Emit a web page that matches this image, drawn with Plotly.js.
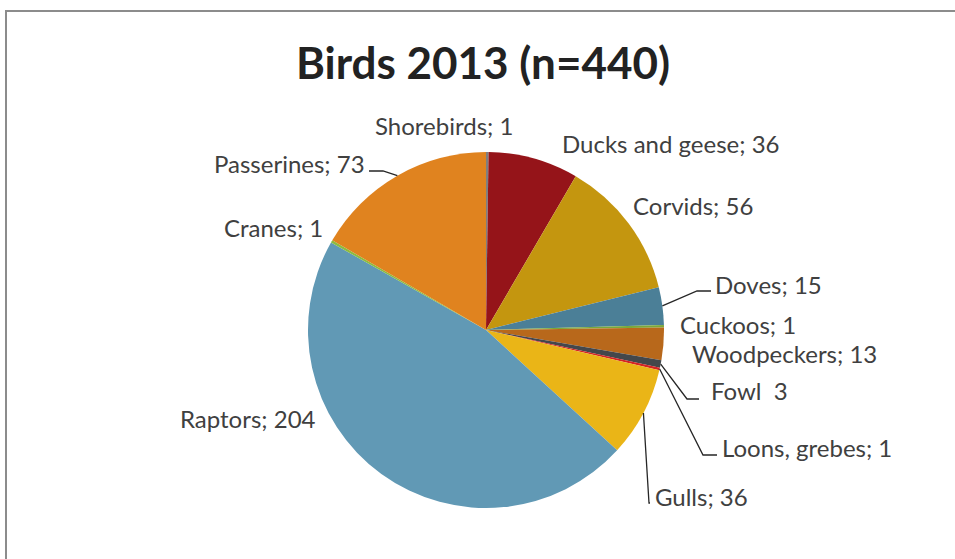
<!DOCTYPE html>
<html>
<head>
<meta charset="utf-8">
<script src="https://cdn.plot.ly/plotly-3.0.1.min.js"></script>
<style>html,body{margin:0;padding:0;background:#fff}#chart{width:955px;height:559px}</style>
</head>
<body>
<div id="chart"></div>
<script>
// Data
const categories = ["Shorebirds", "Ducks and geese", "Corvids", "Doves", "Cuckoos", "Woodpeckers", "Fowl", "Loons, grebes", "Gulls", "Raptors", "Cranes", "Passerines"];
const counts = [1, 36, 56, 15, 1, 13, 3, 1, 36, 204, 1, 73];
const labelTexts = ["Shorebirds; 1", "Ducks and geese; 36", "Corvids; 56", "Doves; 15", "Cuckoos; 1", "Woodpeckers; 13", "Fowl  3", "Loons, grebes; 1", "Gulls; 36", "Raptors; 204", "Cranes; 1", "Passerines; 73"];
const sliceColors = ["#7f7f7f", "#951419", "#c4960f", "#4b7f97", "#7aa83a", "#b8681b", "#44474b", "#d42424", "#eab517", "#6199b5", "#8dbb3e", "#e0831f"];

// Layout (pixel) settings
const W = 955, H = 559;
const cx = 486, cy = 330, R = 178;
const px = x => x / W;
const py = y => 1 - y / H;

// label anchor positions (left edge x, middle y)
const labelPos = [
  [373, 125], [560, 143], [631, 205], [713, 284], [678, 324], [690, 353],
  [709, 390], [720, 447], [653, 496], [178, 418], [222, 227], [212, 163]
];
// leader: [elbowX, elbowY, endX, endY] in px, null if none
const leaders = [null, null, null, [697, 291, 711, 291], null, null,
  [687, 399, 699, 399], [703, 455, 717, 455], [649, 503, 650, 503], null, null, [383, 171, 369, 171]];

const total = counts.reduce((a, b) => a + b, 0);
let cum = 0;
const shapes = [];
const annotations = [];
counts.forEach((v, i) => {
  const mid = (cum + v / 2) / total * 2 * Math.PI;
  cum += v;
  const ex = cx + R * Math.sin(mid), ey = cy - R * Math.cos(mid);
  annotations.push({
    x: px(labelPos[i][0]), y: py(labelPos[i][1]), xref: 'paper', yref: 'paper',
    xanchor: 'left', yanchor: 'middle', showarrow: false, text: labelTexts[i],
    font: {family: 'Lato, sans-serif', size: 24, color: '#404040'}
  });
  const L = leaders[i];
  if (L) {
    shapes.push({type: 'path', xref: 'paper', yref: 'paper',
      path: `M ${px(ex)} ${py(ey)} L ${px(L[0])} ${py(L[1])} L ${px(L[2])} ${py(L[3])}`,
      line: {color: '#262626', width: 1.3}});
  }
});
// chart frame
shapes.push({type: 'rect', xref: 'paper', yref: 'paper', x0: px(6), y0: py(570), x1: px(970), y1: py(11),
  line: {color: '#8c8c8c', width: 2}, layer: 'below'});

const trace = {
  type: 'pie', labels: categories, values: counts, sort: false, direction: 'clockwise', rotation: 0,
  textinfo: 'none', hoverinfo: 'label+value',
  marker: {colors: sliceColors, line: {width: 0}},
  domain: {x: [px(cx - R), px(cx + R)], y: [py(cy + R), py(cy - R)]},
  showlegend: false
};

const layout = {
  width: W, height: H, margin: {l: 0, r: 0, t: 0, b: 0},
  paper_bgcolor: '#ffffff',
  title: {text: '<b>Birds 2013 (n=440)</b>', x: px(483), xanchor: 'center', y: py(64), yanchor: 'middle',
    font: {family: 'Lato, sans-serif', size: 44, color: '#222222'}},
  shapes: shapes, annotations: annotations
};
Plotly.newPlot('chart', [trace], layout, {displayModeBar: false, staticPlot: true});
</script>
</body>
</html>
